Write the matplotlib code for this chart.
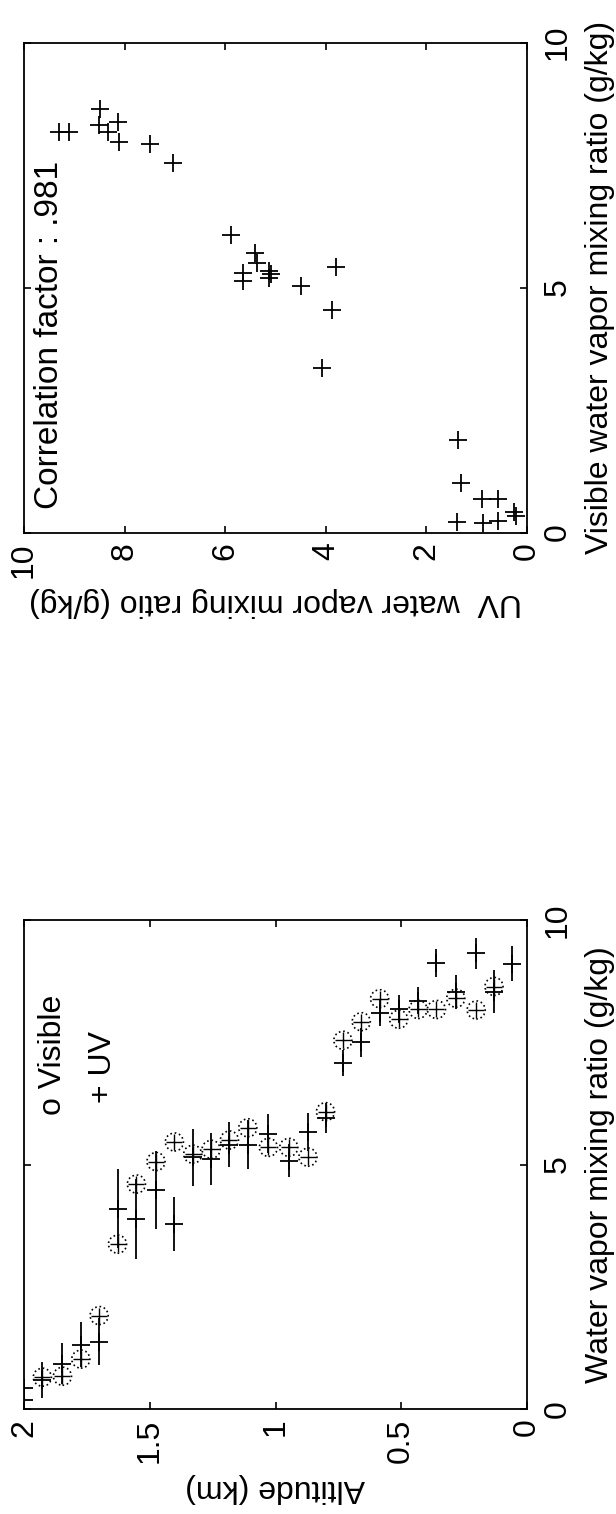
import matplotlib
matplotlib.use("Agg")
import matplotlib.pyplot as plt

plt.rcParams["font.family"] = ["Liberation Sans", "DejaVu Sans"]

# --- profile panel: altitude (km) vs water vapour mixing ratio (g/kg) ---
vis_alt = [1.927, 1.847, 1.774, 1.701, 1.628, 1.553, 1.475, 1.402, 1.329, 1.256,
           1.183, 1.110, 1.028, 0.947, 0.871, 0.801, 0.732, 0.659, 0.586, 0.510,
           0.433, 0.360, 0.283, 0.202, 0.131]
vis_q = [0.65, 0.67, 1.02, 1.91, 3.37, 4.60, 5.06, 5.46, 5.21, 5.31,
         5.50, 5.75, 5.35, 5.35, 5.15, 6.08, 7.54, 7.92, 8.39, 7.97,
         8.17, 8.17, 8.40, 8.16, 8.64]

uv_alt = [2.0, 2.0, 1.927, 1.847, 1.774, 1.701, 1.628, 1.553, 1.475, 1.402,
          1.329, 1.256, 1.183, 1.110, 1.028, 0.947, 0.871, 0.801, 0.732, 0.659,
          0.586, 0.510, 0.433, 0.360, 0.283, 0.202, 0.131, 0.061]
uv_q = [0.42, 0.18, 0.60, 0.93, 1.31, 1.38, 4.10, 3.89, 4.48, 3.78,
        5.15, 5.12, 5.40, 5.40, 5.63, 5.08, 5.66, 5.95, 7.07, 7.50,
        8.10, 8.18, 8.35, 9.12, 8.53, 9.32, 8.53, 9.11]
uv_err = [0.0, 0.0, 0.37, 0.41, 0.46, 0.48, 0.80, 0.82, 0.80, 0.55,
          0.58, 0.53, 0.46, 0.50, 0.40, 0.34, 0.39, 0.30, 0.27, 0.30,
          0.26, 0.28, 0.28, 0.28, 0.35, 0.32, 0.44, 0.35]

# --- scatter panel: UV vs visible mixing ratio (g/kg) ---
sc_uv = [9.30, 9.10, 8.49, 8.51, 8.14, 8.33, 8.12, 7.49, 7.03, 5.88,
         5.40, 5.37, 5.65, 5.65, 5.12, 5.09, 5.13, 4.50, 3.79, 3.87,
         4.07, 1.38, 1.31, 0.89, 0.58, 1.40, 0.87, 0.58, 0.26, 0.22]
sc_vis = [8.17, 8.17, 8.65, 8.32, 8.38, 8.17, 7.97, 7.94, 7.54, 6.08,
          5.71, 5.50, 5.30, 5.13, 5.33, 5.27, 5.20, 5.04, 5.43, 4.55,
          3.36, 1.89, 1.02, 0.68, 0.68, 0.22, 0.19, 0.24, 0.42, 0.33]
corr_text = "Correlation factor : .981"

q_ticks = [0, 5, 10]
uv_ticks = [0, 2, 4, 6, 8, 10]
alt_ticks = [0, 0.5, 1, 1.5, 2]
alt_labels = ["0", "0.5", "1", "1.5", "2"]

FS = 23


def style_axis(ax, h_ticks, h_labels, h_label, v_label):
    """Page is turned 90 degrees: horizontal axis reads right-to-left, labels rotated."""
    ax.set_xticks(h_ticks, h_labels)
    ax.set_yticks(q_ticks, [str(v) for v in q_ticks])
    ax.yaxis.tick_right()
    ax.tick_params(direction="in", length=5, width=1.2, top=True, bottom=True,
                   left=True, right=True, labelsize=FS)
    ax.tick_params(axis="x", labelrotation=90, pad=7)
    ax.tick_params(axis="y", labelrotation=90, pad=11)
    for t in ax.get_yticklabels():
        t.set_va("center")
    ax.set_xlabel(h_label, fontsize=FS, rotation=180, labelpad=7)
    ax.yaxis.set_label_position("right")
    ax.set_ylabel(v_label, fontsize=FS, labelpad=9)
    for spine in ax.spines.values():
        spine.set_linewidth(1.3)


fig = plt.figure(figsize=(6.16, 15.14), dpi=100)
ax_top = fig.add_axes([24 / 616, 1 - 532.5 / 1514, 503 / 616, 489.8 / 1514])
ax_bot = fig.add_axes([24 / 616, 1 - 1409 / 1514, 503 / 616, 489 / 1514])

# scatter of the two instruments
ax_top.plot(sc_uv, sc_vis, "+", color="k", ms=13.5, mew=1.3)
ax_top.set_xlim(10, 0)
ax_top.set_ylim(0, 10)
ax_top.text(0.05, 0.047, corr_text, transform=ax_top.transAxes, rotation=90,
            rotation_mode="anchor", ha="left", va="center", fontsize=24)
style_axis(ax_top, uv_ticks, [str(v) for v in uv_ticks],
           "UV  water vapor mixing ratio (g/kg)",
           "Visible water vapor mixing ratio (g/kg)")

# altitude profile
ax_bot.errorbar(uv_alt, uv_q, yerr=uv_err, fmt="+", color="k", ms=13.5, mew=1.3,
                elinewidth=1.3, capsize=0)
ax_bot.scatter(vis_alt, vis_q, s=13 ** 2, marker="o", facecolors="none",
               edgecolors="k", linewidths=1.2, linestyles=":", zorder=3)
ax_bot.plot(vis_alt, vis_q, "+", color="k", ms=12, mew=1.0, zorder=3)
ax_bot.set_xlim(2, 0)
ax_bot.set_ylim(0, 10)
ax_bot.text(0.058, 0.601, "o Visible", transform=ax_bot.transAxes, rotation=90,
            rotation_mode="anchor", ha="left", va="center", fontsize=FS)
ax_bot.text(0.157, 0.626, "+ UV", transform=ax_bot.transAxes, rotation=90,
            rotation_mode="anchor", ha="left", va="center", fontsize=FS)
style_axis(ax_bot, alt_ticks, alt_labels, "Altitude (km)",
           "Water vapor mixing ratio (g/kg)")

fig.savefig("out.png", dpi=100)
